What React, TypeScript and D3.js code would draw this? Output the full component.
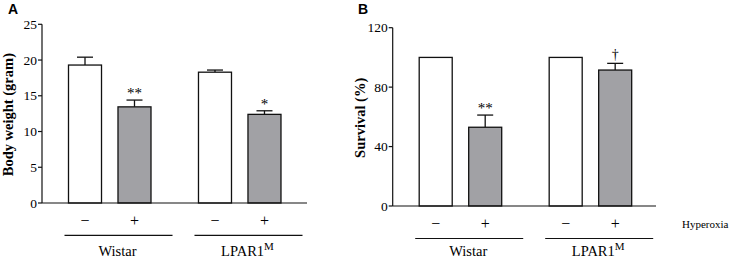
import React from "react";
import * as d3 from "d3";

const groups = ["Wistar", "LPAR1M"];
const conditions = ["−", "+"];

const weightMeans = [19.3, 13.45, 18.3, 12.4];
const weightErr = [1.1, 0.95, 0.3, 0.5];
const weightMarks = ["", "**", "", "*"];
const weightTicks = [0, 5, 10, 15, 20, 25];

const survivalMeans = [100, 53, 100, 91.5];
const survivalErr = [0, 8.2, 0, 4.5];
const survivalMarks = ["", "**", "", "†"];
const survivalTicks = [0, 40, 80, 120];

const SERIF = "'Liberation Serif', 'Times New Roman', serif";
const SANS = "'Liberation Sans', Arial, sans-serif";
const GRAY = "#a1a1a5";
const INK = "#111";

type PanelProps = {
  letter: string;
  letterX: number;
  title: string;
  titleX: number;
  axisX: number;
  axisLen: number;
  y0: number;
  yTop: number;
  yMax: number;
  ticks: number[];
  means: number[];
  errs: number[];
  marks: string[];
  signY: number;
  lineY: number;
  showHyperoxia?: boolean;
};

function Panel(p: PanelProps) {
  const y = d3.scaleLinear().domain([0, p.yMax]).range([p.y0, p.yTop]);
  const outer = d3
    .scaleBand<string>()
    .domain(groups)
    .range([p.axisX + 22.5, p.axisX + 260.5])
    .paddingInner(0.169)
    .paddingOuter(0);
  const inner = d3
    .scaleBand<string>()
    .domain(conditions)
    .range([4, 86.5])
    .paddingInner(0.333)
    .paddingOuter(0);
  const bars: any[] = [];
  groups.forEach((g, gi) => {
    conditions.forEach((c, ci) => {
      const i = gi * 2 + ci;
      const x = (outer(g) as number) + (inner(c) as number);
      bars.push({ g, c, i, x, w: inner.bandwidth(), v: p.means[i], e: p.errs[i], m: p.marks[i] });
    });
  });
  return (
    <g>
      <text x={p.letterX} y={14} fontFamily={SANS} fontWeight="bold" fontSize={14} fill="#000">
        {p.letter}
      </text>
      <text
        transform={`translate(${p.titleX},${(p.y0 + p.yTop) / 2 + 1}) rotate(-90)`}
        textAnchor="middle"
        fontFamily={SERIF}
        fontWeight="bold"
        fontSize={14.5}
        fill="#000"
      >
        {p.title}
      </text>
      {bars.map((b) => (
        <g key={b.i}>
          {b.e > 0 && (
            <g stroke={INK} strokeWidth={1.3}>
              <line x1={b.x + b.w / 2} x2={b.x + b.w / 2} y1={y(b.v)} y2={y(b.v + b.e)} />
              <line x1={b.x + b.w / 2 - 8} x2={b.x + b.w / 2 + 8} y1={y(b.v + b.e)} y2={y(b.v + b.e)} />
            </g>
          )}
          <rect
            x={b.x}
            y={y(b.v)}
            width={b.w}
            height={y(0) - y(b.v)}
            fill={b.c === "+" ? GRAY : "#fff"}
            stroke={INK}
            strokeWidth={1.3}
          />
          {b.m && (
            <text
              x={b.x + b.w / 2}
              y={y(b.v + b.e) - (b.m === "†" ? 4 : 2)}
              textAnchor="middle"
              fontFamily={SERIF}
              fontSize={b.m === "†" ? 14 : 15}
              fill="#000"
            >
              {b.m}
            </text>
          )}
          <text
            x={b.x + b.w / 2}
            y={p.signY}
            textAnchor="middle"
            fontFamily={SERIF}
            fontSize={16}
            fill="#000"
          >
            {b.c}
          </text>
        </g>
      ))}
      <line x1={p.axisX} x2={p.axisX} y1={p.y0} y2={p.yTop} stroke={INK} strokeWidth={1.2} />
      <line x1={p.axisX} x2={p.axisX + p.axisLen} y1={p.y0} y2={p.y0} stroke={INK} strokeWidth={1.2} />
      {p.ticks.map((t) => (
        <g key={t}>
          <line x1={p.axisX - 4} x2={p.axisX} y1={y(t)} y2={y(t)} stroke={INK} strokeWidth={1.2} />
          <text
            x={p.axisX - 5}
            y={y(t) + 4.5}
            textAnchor="end"
            fontFamily={SERIF}
            fontSize={13.5}
            fill="#000"
          >
            {t}
          </text>
        </g>
      ))}
      {groups.map((g) => {
        const x0 = outer(g) as number;
        return (
          <g key={g}>
            <line
              x1={x0}
              x2={x0 + outer.bandwidth()}
              y1={p.lineY}
              y2={p.lineY}
              stroke={INK}
              strokeWidth={1.2}
            />
            <text
              x={x0 + outer.bandwidth() / 2 - 1}
              y={256}
              textAnchor="middle"
              fontFamily={SERIF}
              fontSize={14.5}
              fill="#000"
            >
              {g === "LPAR1M" ? (
                <>
                  LPAR1
                  <tspan fontSize={11} dy={-6}>
                    M
                  </tspan>
                </>
              ) : (
                g
              )}
            </text>
          </g>
        );
      })}
      {p.showHyperoxia && (
        <text x={682} y={228} fontFamily={SERIF} fontSize={11} fill="#000">
          Hyperoxia
        </text>
      )}
    </g>
  );
}

export default function App() {
  return (
    <svg
      width={732}
      height={261}
      style={{ position: "absolute", left: 0, top: 0, background: "#fff" }}
    >
      <rect width={732} height={261} fill="#fff" />
      <Panel
        letter="A"
        letterX={8}
        title="Body weight (gram)"
        titleX={13}
        axisX={42}
        axisLen={265}
        y0={203}
        yTop={24.3}
        yMax={25}
        ticks={weightTicks}
        means={weightMeans}
        errs={weightErr}
        marks={weightMarks}
        signY={226}
        lineY={235.3}
      />
      <Panel
        letter="B"
        letterX={358}
        title="Survival (%)"
        titleX={365}
        axisX={392.7}
        axisLen={263.3}
        y0={206}
        yTop={27.7}
        yMax={120}
        ticks={survivalTicks}
        means={survivalMeans}
        errs={survivalErr}
        marks={survivalMarks}
        signY={229}
        lineY={238.5}
        showHyperoxia
      />
    </svg>
  );
}
